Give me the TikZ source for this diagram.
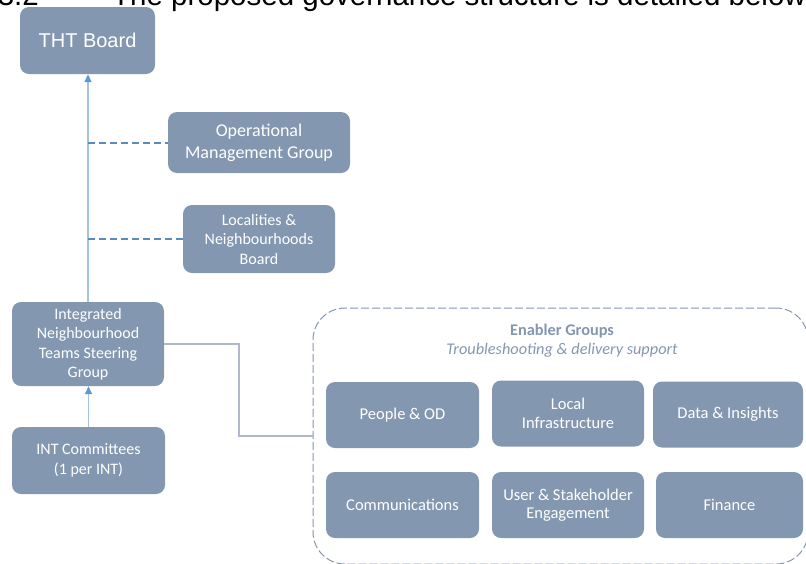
\documentclass[tikz,border=0pt]{standalone}
\usepackage{fontspec}
\setmainfont{Carlito}
\newfontfamily\arialfont{Liberation Sans}
\usetikzlibrary{arrows.meta,positioning}
\definecolor{govslate}{RGB}{132,151,176}
\definecolor{govline} {RGB}{165,195,226}
\definecolor{govtip}  {RGB}{ 91,155,213}
\definecolor{govdash} {RGB}{ 91,138,192}
\definecolor{govlink} {RGB}{173,185,202}
\tikzset{
  gov/.style={fill=govslate,rounded corners=9pt,text=white,align=center,
              inner sep=0pt,font=\fontsize{16}{19.5}\selectfont},
  govbig/.style={gov,font=\fontsize{18}{22}\selectfont},
  govsub/.style={gov,font=\fontsize{16.5}{18.5}\selectfont,
                 minimum width=152,minimum height=66},
  uparr/.style={-{Triangle[length=8pt,width=7pt,color=govtip]},
                line width=1.5pt,color=govline},
  tapdash/.style={line width=2pt,color=govdash,dash pattern=on 7pt off 4pt},
  link/.style={line width=1.5pt,color=govlink},
  enabler/.style={draw=govslate,dash pattern=on 8pt off 3pt,line width=1pt,
                  rounded corners=32pt,inner sep=0pt},
  heading/.style={inner sep=0pt,font=\arialfont\fontsize{29.5}{34}\selectfont},
}

\begin{document}
\begin{tikzpicture}[x=1pt,y=-1pt]
  \useasboundingbox (0,0) rectangle (806,563);
  \clip (0,0) rectangle (806,563);
  % heading line above the chart
  \node[heading,anchor=base east] (secno) at (39,5) {3.2};
  \node[heading,anchor=base west] (intro) at (112,5)
    {The proposed governance structure is detailed below.};

  % Left column
  \node[gov,font=\arialfont\fontsize{20}{24}\selectfont,
        minimum width=135,minimum height=67] (THT) at (87.5,40.5) {THT Board};
  \node[govbig,minimum width=182,minimum height=61] (OMG) at (259,142.5)
    {Operational\\Management Group};
  \node[gov,minimum width=152,minimum height=68] (LNB) at (259,239)
    {Localities \&\\Neighbourhoods\\Board};
  \node[gov,minimum width=152,minimum height=84] (INTSG) at (88,344)
    {Integrated\\Neighbourhood\\Teams Steering\\Group};
  \node[gov,minimum width=153,minimum height=67] (INTC) at (88.5,460.5)
    {INT Committees\\(1 per INT)};

  % Enabler groups
  \node[enabler,minimum width=495,minimum height=256] (EG) at (560.5,436) {};
  \node[text=govslate,font=\bfseries\fontsize{16.3}{18}\selectfont] (EGtitle)
    at (562,331) {Enabler Groups};
  \node[text=govslate,font=\itshape\fontsize{16.3}{18}\selectfont] (EGsub)
    at (562,350) {Troubleshooting \& delivery support};
  \node[govsub,minimum width=153] (PEOPLE) at (402.5,415) {People \& OD};
  \node[govsub] (LOCAL)  at (568,413.5) {Local\\Infrastructure};
  \node[govsub,minimum width=150] (DATA) at (728,414.5) {Data \& Insights};
  \node[govsub,minimum width=153] (COMMS) at (402.5,505) {Communications};
  \node[govsub] (USER)   at (568,505) {User \& Stakeholder\\Engagement};
  \node[govsub,minimum width=147] (FIN) at (729.5,505) {Finance};

  % Reporting lines
  \draw[uparr] (INTC.north) -- (INTC.north |- INTSG.south);
  \draw[uparr] (INTSG.north) -- (INTSG.north |- THT.south);
  \coordinate (omgtap) at (INTSG.north |- OMG.west);
  \coordinate (lnbtap) at (INTSG.north |- LNB.west);
  \draw[tapdash] (omgtap) -- (OMG.west);
  \draw[tapdash] (lnbtap) -- (LNB.west);
  \draw[link] (INTSG.east) -- ++(75,0) |- (EG.west);
\end{tikzpicture}
\end{document}
